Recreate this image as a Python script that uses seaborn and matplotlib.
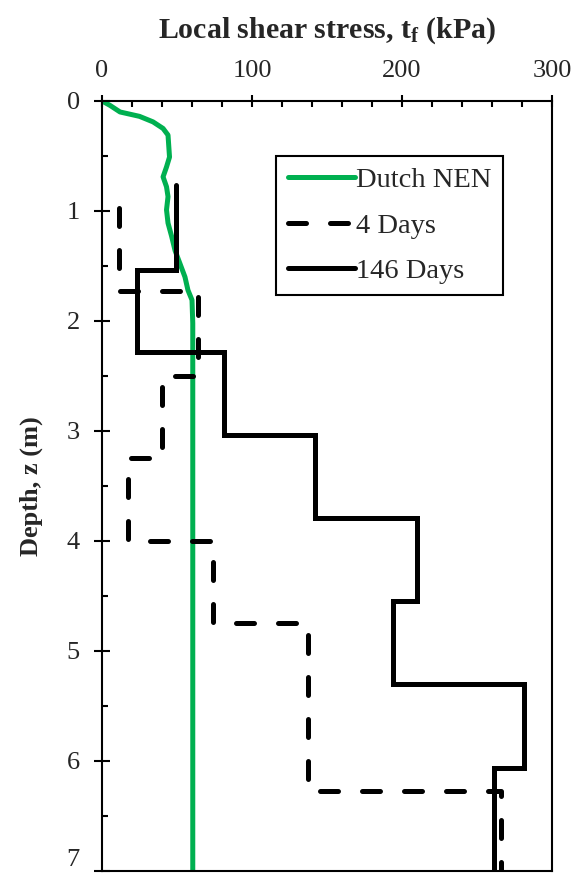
import numpy as np
import pandas as pd
import matplotlib
matplotlib.use("Agg")
import matplotlib.pyplot as plt
from matplotlib.ticker import MultipleLocator
import seaborn as sns

# Dutch NEN profile: depth (m) and local shear stress (kPa)
nen_depth = [0.00, 0.04, 0.10, 0.14, 0.19, 0.25, 0.31, 0.45, 0.51, 0.60, 0.69,
             0.78, 0.87, 0.99, 1.11, 1.23, 1.36, 1.48, 1.60, 1.72, 1.81, 2.02, 7.00]
nen_stress = [0.0, 5.3, 12.0, 25.0, 34.0, 40.7, 44.0, 44.7, 45.0, 43.0, 40.7,
              43.0, 44.0, 43.0, 44.0, 46.4, 48.7, 52.0, 55.3, 57.3, 60.0, 60.5, 60.5]

# 4 days: layer boundaries (m) and stress in each layer (kPa)
d4_bounds = [0.97, 1.73, 2.50, 3.25, 4.00, 4.75, 6.27, 7.00]
d4_stress = [11, 64, 40, 17, 74, 137, 266]

# 146 days: layer boundaries (m) and stress in each layer (kPa)
d146_bounds = [0.76, 1.54, 2.28, 3.04, 3.79, 4.55, 5.30, 6.06, 7.00]
d146_stress = [49, 23, 81, 142, 210, 194, 281, 261]

x_ticks = [0, 100, 200, 300]
y_ticks = [0, 1, 2, 3, 4, 5, 6, 7]


def step_profile(bounds, values, label):
    depth, stress = [], []
    for i, v in enumerate(values):
        depth += [bounds[i], bounds[i + 1]]
        stress += [v, v]
    return pd.DataFrame({"depth": depth, "stress": stress, "series": label})


sns.set_theme(style="white")
plt.rcParams["font.family"] = ["Liberation Serif", "DejaVu Serif"]
plt.rcParams["mathtext.fontset"] = "custom"
plt.rcParams["mathtext.rm"] = "Liberation Serif:bold"
plt.rcParams["mathtext.it"] = "Liberation Serif:bold"
plt.rcParams["mathtext.bf"] = "Liberation Serif:bold"

fig = plt.figure(figsize=(5.77, 8.81), dpi=100)
ax = fig.add_axes([0.1768, 0.0114, 0.7799, 0.874])

nen = pd.DataFrame({"depth": nen_depth, "stress": nen_stress})
d4 = step_profile(d4_bounds, d4_stress, "4 Days")
d146 = step_profile(d146_bounds, d146_stress, "146 Days")

lw = 3.6
sns.lineplot(data=nen, x="stress", y="depth", sort=False, estimator=None,
             color="#00B050", lw=lw, ax=ax, label="Dutch NEN",
             solid_joinstyle="round")
sns.lineplot(data=d4, x="stress", y="depth", sort=False, estimator=None,
             color="black", lw=lw, ax=ax, label="4 Days",
             dashes=False, linestyle=(0, (3.6, 4.8)), dash_capstyle="round")
sns.lineplot(data=d146, x="stress", y="depth", sort=False, estimator=None,
             color="black", lw=lw, ax=ax, label="146 Days",
             solid_joinstyle="miter")

ax.set_xlim(0, 300)
ax.set_ylim(7, 0)
ax.xaxis.tick_top()
ax.xaxis.set_label_position("top")
ax.set_xticks(x_ticks)
ax.set_yticks(y_ticks)
ax.xaxis.set_minor_locator(MultipleLocator(20))
ax.yaxis.set_minor_locator(MultipleLocator(0.5))

ax.tick_params(axis="x", which="major", direction="inout", length=9, width=1.5,
               top=True, bottom=False, labeltop=True, labelbottom=False,
               labelsize=19, pad=9, color="black")
ax.tick_params(axis="x", which="minor", direction="in", length=4, width=1.5,
               top=True, bottom=False, color="black")
ax.tick_params(axis="y", which="major", direction="inout", length=12, width=1.5,
               left=True, right=False, labelsize=19, pad=10, color="black")
ax.tick_params(axis="y", which="minor", direction="in", length=4.5, width=1.5,
               left=True, right=False, color="black")

# keep the bottom depth label inside the figure
ax.get_yticklabels()[-1].set_va("bottom")

for s in ax.spines.values():
    s.set_color("black")
    s.set_linewidth(1.5)

ax.set_xlabel("Local shear stress, t$_{\\mathrm{f}}$ (kPa)", fontsize=21.5,
              fontweight="bold", labelpad=16)
ax.set_ylabel("Depth, z (m)", fontsize=19, fontweight="bold", labelpad=17)

leg = ax.legend(loc="upper right", bbox_to_anchor=(0.891, 0.9286),
                borderaxespad=0, fontsize=20.5, frameon=True, fancybox=False,
                framealpha=1, edgecolor="black", handlelength=2.35,
                handletextpad=0.05, labelspacing=0.68, borderpad=0.4)
leg.get_frame().set_linewidth(1.5)

fig.savefig("out.png", dpi=100)
